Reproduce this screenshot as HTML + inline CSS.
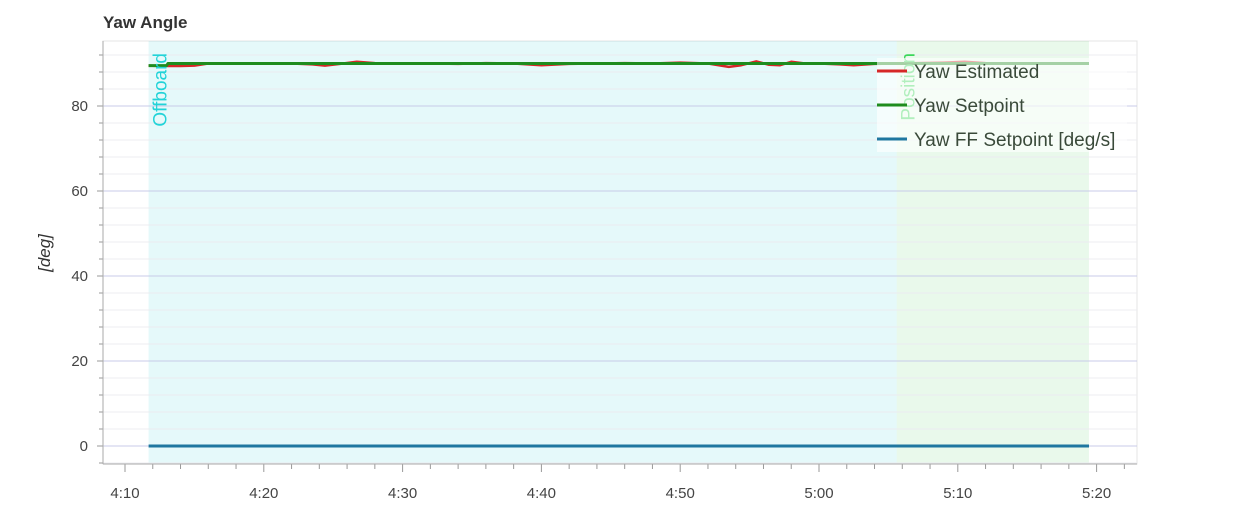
<!DOCTYPE html>
<html><head><meta charset="utf-8"><style>
body{margin:0;background:#fff;font-family:"Liberation Sans",sans-serif}
svg text{font-family:"Liberation Sans",sans-serif}
</style></head><body>
<svg width="1260" height="504">
<text x="103" y="28" font-size="17" font-weight="bold" fill="#333">Yaw Angle</text>
<text transform="translate(50,253) rotate(-90)" font-size="17" font-style="italic" fill="#333" text-anchor="middle">[deg]</text>
<g id="bg"></g><g id="grid"></g><g id="marks"></g><g id="axes"></g><g id="legend"></g>
</svg>
<script>
const yTicks=[0,20,40,60,80];
const xTickLabels=["4:10","4:20","4:30","4:40","4:50","5:00","5:10","5:20"];
const xTickSecs=[250,260,270,280,290,300,310,320];
const modeNames=["Offboard","Position"];
const modeStarts=[251.7,305.6];
const modeEnds=[305.6,319.45];
const estT=[251.7,252.5,254,255,256,258,260,262,263.5,264.4,265.5,266.7,268,270,272,274,276,278,280,282,284,286,288,290,292,293.5,294.4,295.5,296.4,297.2,298,299,300,301.5,302.5,304,305.6,307,309,310.5,312,314,316,318,319.45];
const estV=[89.5,89.4,89.4,89.5,90,90,90,90,89.8,89.5,89.9,90.4,90.1,90,90,89.9,90.1,90,89.6,89.9,90,90.1,90,90.2,90,89.2,89.6,90.5,89.7,89.6,90.4,90,90,89.8,89.6,89.9,90,90.1,90.2,90.4,90.1,90,90,90,90];
const spT=[251.7,253,253.1,319.45];
const spV=[89.5,89.5,90,90];
const ffT=[251.7,319.45];
const ffV=[0,0];
const X=t=>125+(t-250)*13.88, Y=v=>446-v*4.25;
const ns="http://www.w3.org/2000/svg";
function mk(p,tag,a){const e=document.createElementNS(ns,tag);for(const k in a)e.setAttribute(k,a[k]);document.getElementById(p).appendChild(e);return e;}
const L=103,R=1137,T=41,B=464;
mk('bg','rect',{x:L,y:T,width:R-L,height:B-T,fill:'#fff',stroke:'#e4e4e4'});
const cols=['rgba(0,200,210,0.1)','rgba(40,200,60,0.1)'];
modeNames.forEach((n,i)=>{
 const r=mk('bg','rect',{x:X(modeStarts[i]),y:T,width:X(modeEnds[i])-X(modeStarts[i]),height:B-T,fill:cols[i]});
 
 
});
for(let v=-4;v<=96;v+=4){const y=Y(v);if(y<T||y>B)continue;
 const major=v%20===0;
 mk('grid','line',{x1:L,x2:R,y1:y,y2:y,stroke:major?'#c8cbe8':'#ececf0','stroke-width':1});
 mk('axes','line',{x1:major?97:99,x2:L,y1:y,y2:y,stroke:'#999'});}
yTicks.forEach(v=>{const t=mk('axes','text',{x:88,y:Y(v)+5,'text-anchor':'end','font-size':15,fill:'#444'});t.textContent=v;
 
 });
for(let s=250;s<=322;s+=2){const x=X(s);if(x>R)continue;const major=(s%10===0);
 mk('axes','line',{x1:x,x2:x,y1:B,y2:B+(major?8:5),stroke:'#999'});}
xTickSecs.forEach((s,i)=>{const t=mk('axes','text',{x:X(s),y:498,'text-anchor':'middle','font-size':15,fill:'#444'});t.textContent=xTickLabels[i];
 
 });
mk('axes','line',{x1:L,x2:L,y1:T,y2:B,stroke:'#aaa'});
mk('axes','line',{x1:L,x2:R,y1:B,y2:B,stroke:'#aaa'});
function line(ts,vs,c,w,name){const d=ts.map((t,i)=>(i?'L':'M')+X(t).toFixed(1)+' '+Y(vs[i]).toFixed(1)).join(' ');
 const p=mk('marks','path',{d:d,fill:'none',stroke:c,'stroke-width':w,'stroke-linejoin':'round'});
 
 }
line(ffT,ffV,'#1f77a0',3,'yaw-ff-setpoint-line');
line(estT,estV,'#d62728',2.5,'yaw-estimated-line');
line(spT,spV,'#1e8c1e',3,'yaw-setpoint-line');
const mc=['#22d3d8','#3cd65a'];
modeNames.forEach((n,i)=>{const t=mk('marks','text',{transform:`translate(${X(modeStarts[i])+18},${T+12}) rotate(-90)`,'text-anchor':'end','font-size':19,fill:mc[i]});t.textContent=n;
 
 });
mk('legend','rect',{x:877,y:58,width:250,height:94,fill:'rgba(255,255,255,0.6)'});
const lg=[["Yaw Estimated","#d62728"],["Yaw Setpoint","#1e8c1e"],["Yaw FF Setpoint [deg/s]","#1f77a0"]];
lg.forEach((e,i)=>{const y=71+i*34;
 const l=mk('legend','line',{x1:877,x2:907,y1:y,y2:y,stroke:e[1],'stroke-width':3});
 
 
 const t=mk('legend','text',{x:914,y:y+7,'font-size':19,fill:'#3a4a3a'});t.textContent=e[0];
 
 });
</script>
</body></html>
